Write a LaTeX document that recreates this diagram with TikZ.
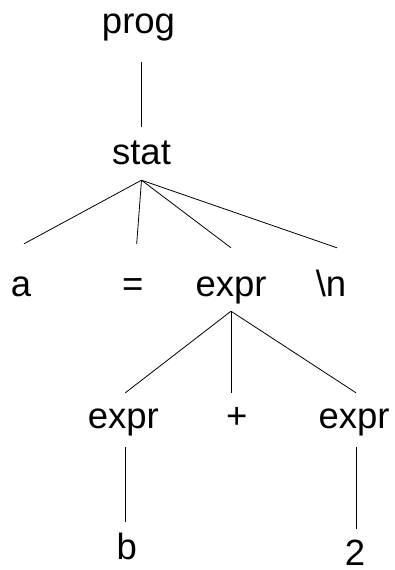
\documentclass[tikz,border=0pt]{standalone}
\usepackage{fontspec}
\setmainfont{Liberation Sans}
\usepackage{tikz}

\tikzset{
	word/.style={inner sep=0pt, anchor=base, text height=37pt, text depth=16pt},
	toprow/.style={word, text height=52pt, text depth=15pt},
	midrow/.style={word, text height=35pt, text depth=19pt},
	leaf/.style={word, text depth=0pt},
	edge/.style={line width=0.8pt}
}

\begin{document}
\begin{tikzpicture}[x=1pt, y=-1pt]
		\useasboundingbox (0,0) rectangle (395,570);
		\fontsize{36.5}{40}\selectfont
		\node[word, text depth=29pt] (prog) at (138.5,33) {prog};
		\node[word] (stat) at (141.5,164) {stat};
		\node[toprow] (a) at (21,296) {a};
		\node[toprow] (eq) at (132.7,296) {=};
		\node[toprow] (expr) at (231,296) {expr};
		\node[toprow] (nl) at (331,296) {\textbackslash n};
		\node[midrow] (lhs) at (123.3,428) {expr};
		\node[midrow] (plus) at (236.7,428) {+};
		\node[midrow] (rhs) at (354,428) {expr};
		\node[leaf] (b) at (126.7,559) {b};
		\node[leaf, text height=36pt] (two) at (355,565) {2};
		\draw[edge] (prog.south -| stat.north) -- (stat.north);
		\draw[edge] (stat.south) -- ([xshift=3pt]a.north);
		\draw[edge] (stat.south) -- ([xshift=4pt]eq.north);
		\draw[edge] (stat.south) -- ([yshift=-4pt]expr.north);
		\draw[edge] (stat.south) -- ([xshift=6pt,yshift=-4pt]nl.north);
		\draw[edge] (expr.south) -- ([xshift=2pt]lhs.north);
		\draw[edge] (expr.south) -- (expr.south |- plus.north);
		\draw[edge] (expr.south) -- ([xshift=2pt]rhs.north);
		\draw[edge] ([xshift=2pt]lhs.south) -- ([xshift=2pt]lhs.south |- b.north);
		\draw[edge] ([xshift=2pt]rhs.south) -- ([xshift=2pt]rhs.south |- two.north);
	\end{tikzpicture}
\end{document}
